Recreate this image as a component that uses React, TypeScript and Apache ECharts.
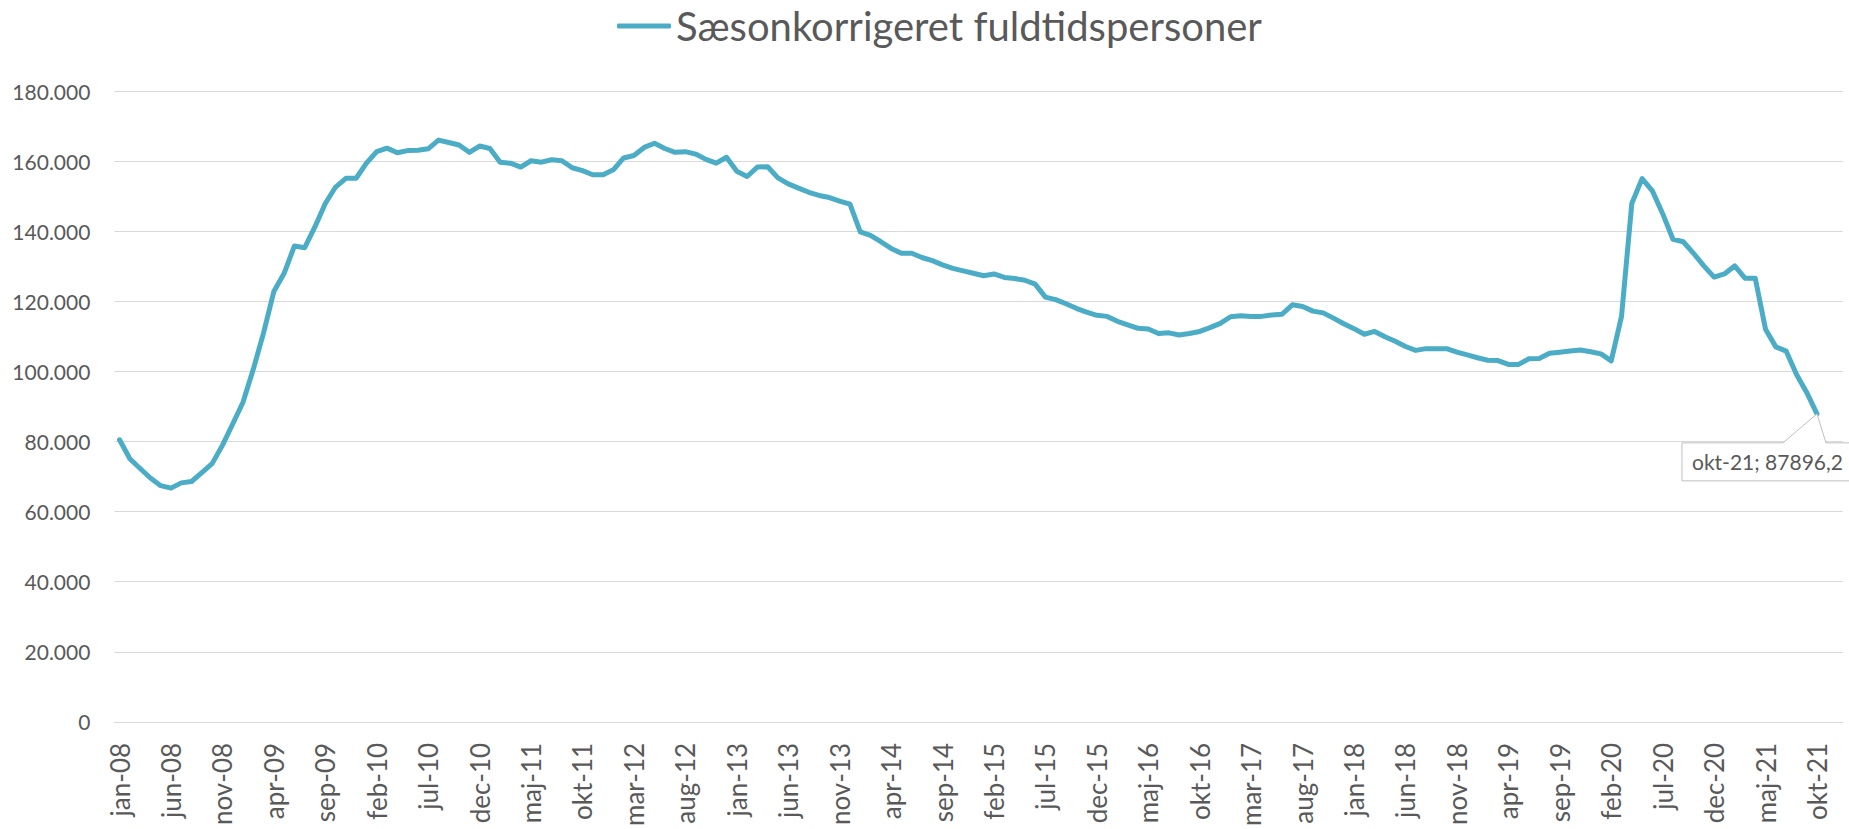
import React, { useEffect, useRef } from 'react';
import * as echarts from 'echarts';

const MONTHS = ['jan', 'feb', 'mar', 'apr', 'maj', 'jun', 'jul', 'aug', 'sep', 'okt', 'nov', 'dec'];
const YEARS = [2008, 2009, 2010, 2011, 2012, 2013, 2014, 2015, 2016, 2017, 2018, 2019, 2020, 2021];
const CATEGORIES = YEARS.flatMap((y) => MONTHS.map((m) => `${m}-${String(y).slice(2)}`));

const SERIES_NAME = 'Sæsonkorrigeret fuldtidspersoner';

const VALUES = [
  80500, 75100, 72300, 69600, 67400, 66700, 68200, 68600, 71100, 73700,
  78900, 85000, 91200, 100600, 111000, 122800, 128000, 135800, 135300, 141300,
  147900, 152600, 155100, 155100, 159400, 162700, 163700, 162400, 163000, 163100,
  163500, 166000, 165300, 164600, 162500, 164300, 163600, 159700, 159400, 158300,
  160100, 159700, 160400, 160100, 158100, 157300, 156100, 156100, 157500, 160900,
  161600, 163900, 165100, 163600, 162500, 162700, 162000, 160500, 159400, 161100,
  157100, 155600, 158300, 158400, 155200, 153500, 152300, 151100, 150200, 149600,
  148600, 147700, 139800, 138800, 137000, 135100, 133700, 133700, 132500, 131600,
  130400, 129400, 128700, 128000, 127300, 127800, 126800, 126500, 126000, 124900,
  121200, 120500, 119300, 118000, 116900, 116000, 115700, 114300, 113300, 112300,
  112100, 110800, 111000, 110400, 110800, 111400, 112500, 113700, 115600, 115900,
  115700, 115700, 116100, 116300, 119000, 118500, 117200, 116700, 115200, 113600,
  112200, 110600, 111400, 109900, 108600, 107100, 106000, 106500, 106500, 106500,
  105500, 104700, 103900, 103200, 103100, 102000, 102000, 103600, 103700, 105200,
  105500, 105800, 106100, 105600, 105000, 103000, 115700, 147900, 155000, 151500,
  145000, 137700, 137000, 133700, 130100, 126900, 127800, 130100, 126600, 126600,
  112000, 107000, 105800, 99200, 94000, 87896.2,
];

const Y_MIN = 0;
const Y_MAX = 180000;
const Y_STEP = 20000;
const LABEL_EVERY = 5;

const LINE_COLOR = '#4BACC6';
const TEXT_COLOR = '#595959';
const GRID_COLOR = '#D9D9D9';
const FONT = 'Lato';

const fmtThousands = (v: number) => String(v).replace(/\B(?=(\d{3})+(?!\d))/g, '.');

export default function App() {
  const ref = useRef<HTMLDivElement>(null);

  useEffect(() => {
    const chart = echarts.init(ref.current!, null, { renderer: 'svg' });
    chart.setOption({
      animation: false,
      backgroundColor: '#ffffff',
      textStyle: { fontFamily: FONT },
      legend: {
        data: [SERIES_NAME],
        left: 617,
        top: 6,
        padding: 0,
        icon: 'roundRect',
        itemWidth: 54,
        itemHeight: 5,
        textStyle: { fontSize: 40, color: TEXT_COLOR, fontFamily: FONT },
      },
      grid: { left: 114.4, right: 6.3, top: 91, bottom: 103, containLabel: false },
      xAxis: {
        type: 'category',
        data: CATEGORIES,
        boundaryGap: true,
        axisLine: { show: true, lineStyle: { color: GRID_COLOR, width: 1 } },
        axisTick: { show: false },
        axisLabel: {
          interval: LABEL_EVERY - 1,
          rotate: 90,
          margin: 21,
          fontSize: 26,
          color: TEXT_COLOR,
          fontFamily: FONT,
        },
        splitLine: { show: false },
      },
      yAxis: {
        type: 'value',
        min: Y_MIN,
        max: Y_MAX,
        interval: Y_STEP,
        axisLine: { show: false },
        axisTick: { show: false },
        axisLabel: {
          margin: 24,
          fontSize: 21,
          color: TEXT_COLOR,
          fontFamily: FONT,
          formatter: (v: number) => fmtThousands(v),
        },
        splitLine: { show: true, lineStyle: { color: GRID_COLOR, width: 1.2 } },
      },
      series: [
        {
          name: SERIES_NAME,
          type: 'line',
          data: VALUES,
          showSymbol: false,
          symbol: 'none',
          lineStyle: { color: LINE_COLOR, width: 5, cap: 'round', join: 'round' },
          itemStyle: { color: LINE_COLOR },
        },
      ],
    });

    const lastIdx = VALUES.length - 1;
    const p = chart.convertToPixel({ xAxisIndex: 0, yAxisIndex: 0 }, [lastIdx, VALUES[lastIdx]]) as number[];
    const px = p[0];
    const py = p[1];
    const L = px - 135;
    const R = px + 40;
    const T = py + 29;
    const B = py + 67;
    const labelText = `${CATEGORIES[lastIdx]}; ${String(VALUES[lastIdx]).replace('.', ',')}`;
    chart.setOption({
      graphic: [
        {
          type: 'polygon',
          z: 100,
          shape: {
            points: [
              [L, T],
              [px - 34, T],
              [px, py],
              [px + 9, T],
              [R, T],
              [R, B],
              [L, B],
            ],
          },
          style: { fill: '#ffffff', stroke: '#BFBFBF', lineWidth: 1 },
        },
        {
          type: 'text',
          z: 101,
          x: L + 10,
          y: (T + B) / 2,
          style: {
            text: labelText,
            fill: TEXT_COLOR,
            fontSize: 21,
            fontFamily: FONT,
            verticalAlign: 'middle',
            align: 'left',
          },
        },
      ],
    });

    return () => chart.dispose();
  }, []);

  return (
    <div
      ref={ref}
      style={{ position: 'absolute', left: 0, top: 0, width: 1849, height: 829 }}
    />
  );
}
